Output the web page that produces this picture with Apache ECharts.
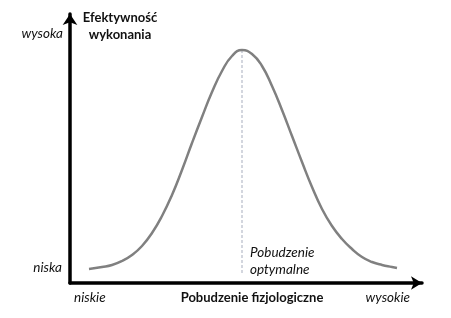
<!DOCTYPE html>
<html>
<head>
<meta charset="utf-8">
<script src="https://cdn.jsdelivr.net/npm/echarts@6/dist/echarts.min.js"></script>
<style>html,body{margin:0;padding:0;background:#fff}#c{width:451px;height:318px}</style>
</head>
<body>
<div id="c"></div>
<script>
// Curve: arousal (x) vs performance (y)
const arousal = [19,32,42,52,62,72,82,92,102,112,122,132,142,152,162,172,182,192,202,212,222,232,242,252,262,272,282,292,302,312,322,327];
const performance = [14,16,18,22,28,37,50,67,88,113,140,166,191,212,227,233,229,217,197,173,147,121,96,74,57,44,34,26,21,18,16,15];
const optimumX = 172;
const optimumLine = [233, 10];
const yTickLabels = ['niska', 'wysoka'];
const xTickLabels = ['niskie', 'wysokie'];
const yTitle = 'Efektywność\nwykonania';
const xTitle = 'Pobudzenie fizjologiczne';
const optimumLabel = 'Pobudzenie\noptymalne';

const chart = echarts.init(document.getElementById('c'));
const font = 'Lato, "Open Sans", sans-serif';
const txt = (x, y, text, opts) => Object.assign({
  type: 'text', x: x, y: y,
  style: Object.assign({text: text, fill: '#111', font: 'italic 13.5px ' + font, textVerticalAlign: 'middle'}, opts || {})
});
chart.setOption({
  animation: false,
  grid: {left: 70, right: 29, top: 14, bottom: 35},
  xAxis: {
    type: 'value', min: 0, max: 352,
    axisLine: {show: true, lineStyle: {color: '#000', width: 3.5}, symbol: ['none', 'arrow'], symbolSize: [10, 11]},
    axisTick: {show: false}, axisLabel: {show: false}, splitLine: {show: false}
  },
  yAxis: {
    type: 'value', min: 0, max: 269,
    axisLine: {show: true, lineStyle: {color: '#000', width: 3.5}, symbol: ['none', 'arrow'], symbolSize: [11, 11]},
    axisTick: {show: false}, axisLabel: {show: false}, splitLine: {show: false}
  },
  series: [
    {
      type: 'line', data: optimumLine.map(v => [optimumX, v]), symbol: 'none',
      lineStyle: {color: '#a7adbd', width: 1, type: [3, 2]}, silent: true
    },
    {
      type: 'line', data: arousal.map((x, i) => [x, performance[i]]), smooth: 0.5, symbol: 'none',
      lineStyle: {color: '#808080', width: 2.5}
    }
  ],
  graphic: [
    txt(63, 34, yTickLabels[1], {textAlign: 'right'}),
    txt(62, 268, yTickLabels[0], {textAlign: 'right'}),
    txt(74, 298, xTickLabels[0], {textAlign: 'left'}),
    txt(410, 298, xTickLabels[1], {textAlign: 'right'}),
    txt(250, 261, optimumLabel, {textAlign: 'left', lineHeight: 17}),
    txt(120, 26, yTitle, {textAlign: 'center', font: 'bold 13px ' + font, lineHeight: 17}),
    txt(252, 298, xTitle, {textAlign: 'center', font: 'bold 13px ' + font})
  ]
});
</script>
</body>
</html>
